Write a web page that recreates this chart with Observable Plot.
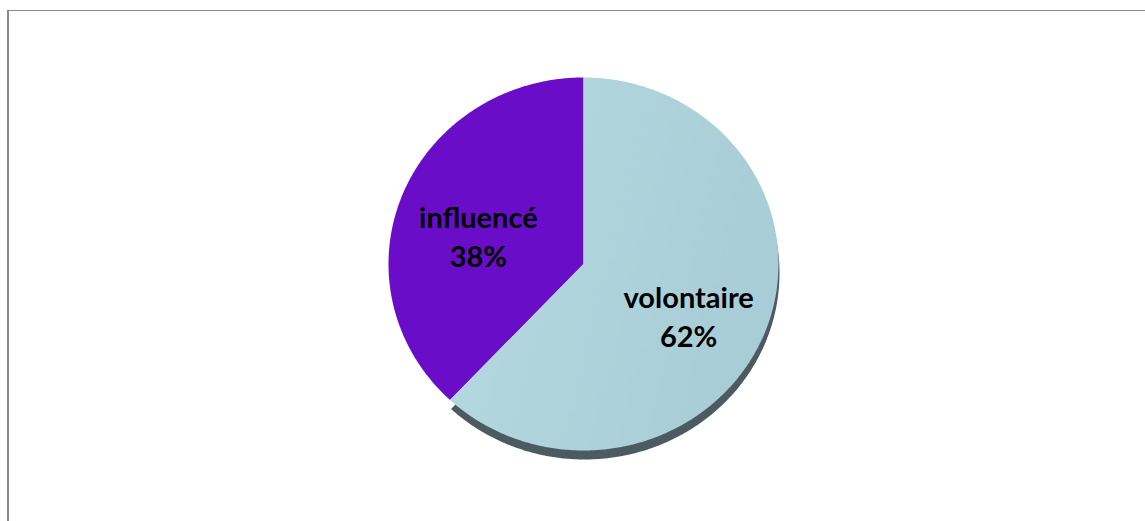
<!DOCTYPE html>
<html>
<head>
<meta charset="utf-8">
<script src="https://cdn.jsdelivr.net/npm/d3@7"></script>
<script src="https://cdn.jsdelivr.net/npm/@observablehq/plot@0.6"></script>
<style>
  html, body { margin: 0; padding: 0; background: #ffffff; }
  #wrap { position: relative; width: 1145px; height: 521px; overflow: hidden; }
  #frame { position: absolute; left: 7px; top: 10px; width: 1200px; height: 600px;
           border-top: 1px solid #8a8a8a; border-left: 2px solid #8a8a8a; box-sizing: border-box; }
  #chart { position: absolute; left: 0; top: 0; }
</style>
</head>
<body>
<div id="wrap"><div id="frame"></div><div id="chart"></div></div>
<script>
// ---- data ----
const categories = ["influencé", "volontaire"];
const shares = [38, 62];
const pctLabels = ["38%", "62%"];
const colors = ["#6a0dc8", "url(#lightGrad)"];

// ---- build slice polygons from shares (angles counter-clockwise from top) ----
const total = d3.sum(shares);
let acc = 0;
const slices = categories.map((c, i) => {
  const a0 = acc / total * 2 * Math.PI;
  acc += shares[i];
  const a1 = acc / total * 2 * Math.PI;
  const pts = [{x: 0, y: 0}];
  const n = Math.max(2, Math.ceil((a1 - a0) / (Math.PI / 360)));
  for (let k = 0; k <= n; k++) {
    const a = a0 + (a1 - a0) * k / n;
    pts.push({x: -Math.sin(a), y: Math.cos(a)});
  }
  const mid = (a0 + a1) / 2;
  return {cat: c, pts, label: {x: -0.58 * Math.sin(mid), y: 0.58 * Math.cos(mid), text: c + "\n" + pctLabels[i]}};
});

const marks = [];
// shadow under the light slice
marks.push(Plot.line(slices[1].pts, {x: "x", y: "y", fill: "#4b5b61", stroke: "none", dx: 1, dy: 9, curve: "linear"}));
slices.forEach((s, i) => {
  marks.push(Plot.line(s.pts, {x: "x", y: "y", fill: colors[i], stroke: "none", curve: "linear"}));
});
marks.push(Plot.text(slices.map(s => s.label), {
  x: "x", y: "y", text: "text", dy: 11,
  fontSize: 29, fontWeight: "bold", fill: "#000000", lineHeight: 1.35,
  fontFamily: "Lato, 'Open Sans', sans-serif"
}));

const chart = Plot.plot({
  width: 1145,
  height: 521,
  marginLeft: 388,
  marginRight: 367,
  marginTop: 77,
  marginBottom: 71,
  x: {domain: [-1, 1], axis: null},
  y: {domain: [-1, 1], axis: null},
  style: {background: "transparent", overflow: "visible"},
  marks
});

// gradient definition for the light slice
const ns = "http://www.w3.org/2000/svg";
const defs = document.createElementNS(ns, "defs");
const grad = document.createElementNS(ns, "linearGradient");
grad.setAttribute("id", "lightGrad");
grad.setAttribute("x1", "0"); grad.setAttribute("y1", "0");
grad.setAttribute("x2", "1"); grad.setAttribute("y2", "0.3");
[["0", "#b6dae1"], ["1", "#a9cdd6"]].forEach(([o, c]) => {
  const st = document.createElementNS(ns, "stop");
  st.setAttribute("offset", o); st.setAttribute("stop-color", c);
  grad.appendChild(st);
});
defs.appendChild(grad);
chart.insertBefore(defs, chart.firstChild);

document.getElementById("chart").appendChild(chart);
</script>
</body>
</html>
